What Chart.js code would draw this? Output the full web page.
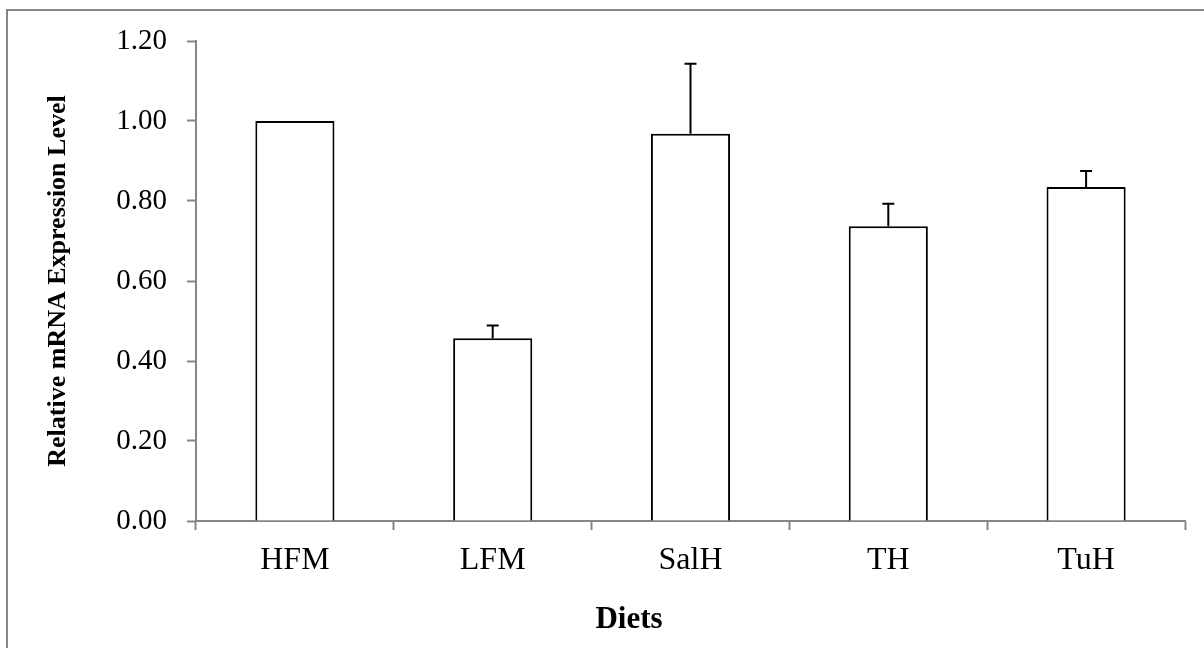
<!DOCTYPE html>
<html>
<head>
<meta charset="utf-8">
<script src="https://cdn.jsdelivr.net/npm/chart.js@4.4.0/dist/chart.umd.min.js"></script>
<style>
  html, body { margin: 0; padding: 0; background: #fff; }
  #wrap { width: 1204px; height: 648px; position: relative; }
</style>
</head>
<body>
<div id="wrap"><canvas id="chart" width="1204" height="648"></canvas></div>
<script>
const diets = ['HFM', 'LFM', 'SalH', 'TH', 'TuH'];
const expression = [1.0, 0.457, 0.968, 0.737, 0.835];
const errorUp = [0, 0.032, 0.175, 0.056, 0.040];
const yTicks = [0, 0.2, 0.4, 0.6, 0.8, 1.0, 1.2];

const serif = "'Liberation Serif', 'Times New Roman', serif";
const axisGray = '#868686';

// Excel-style outer frame around the chart
const framePlugin = {
  id: 'frame',
  beforeDraw(chart) {
    const ctx = chart.ctx;
    ctx.save();
    ctx.strokeStyle = axisGray;
    ctx.lineWidth = 2;
    ctx.strokeRect(7, 10, 1300, 700);
    ctx.restore();
  },
};

// upper error bars with a small cap
const errorBarPlugin = {
  id: 'errorBars',
  afterDatasetsDraw(chart) {
    const ctx = chart.ctx;
    const meta = chart.getDatasetMeta(0);
    const yScale = chart.scales.y;
    ctx.save();
    ctx.strokeStyle = '#000';
    ctx.lineWidth = 2;
    meta.data.forEach((bar, i) => {
      if (!errorUp[i]) return;
      const yTop = yScale.getPixelForValue(expression[i] + errorUp[i]);
      ctx.beginPath();
      ctx.moveTo(bar.x, bar.y);
      ctx.lineTo(bar.x, yTop);
      ctx.moveTo(bar.x - 6, yTop);
      ctx.lineTo(bar.x + 6, yTop);
      ctx.stroke();
    });
    ctx.restore();
  },
};

// x axis title sits left of the plot centre in the original
const xTitlePlugin = {
  id: 'xTitle',
  afterDraw(chart) {
    const ctx = chart.ctx;
    ctx.save();
    ctx.fillStyle = '#000';
    ctx.font = `bold 31px ${serif}`;
    ctx.textAlign = 'center';
    ctx.textBaseline = 'alphabetic';
    ctx.fillText('Diets', 629, 628);
    ctx.restore();
  },
};

new Chart(document.getElementById('chart'), {
  type: 'bar',
  data: {
    labels: diets,
    datasets: [
      {
        data: expression,
        backgroundColor: '#ffffff',
        borderColor: '#000000',
        borderWidth: 2,
        barPercentage: 0.4,
        categoryPercentage: 1.0,
      },
    ],
  },
  options: {
    responsive: false,
    animation: false,
    layout: { padding: { top: 41, right: 19, left: 0, bottom: 0 } },
    plugins: {
      legend: { display: false },
      tooltip: { enabled: false },
    },
    scales: {
      x: {
        grid: {
          offset: true,
          drawOnChartArea: false,
          drawTicks: true,
          tickLength: 9,
          tickWidth: 2,
          tickColor: axisGray,
        },
        border: { color: axisGray, width: 2 },
        ticks: {
          color: '#000',
          font: { family: serif, size: 32 },
          padding: 11,
          maxRotation: 0,
        },
        afterFit: (scale) => { scale.height = 127; },
      },
      y: {
        min: 0,
        max: 1.2,
        afterBuildTicks: (scale) => { scale.ticks = yTicks.map((v) => ({ value: v })); },
        grid: {
          drawOnChartArea: false,
          drawTicks: true,
          tickLength: 9,
          tickWidth: 2,
          tickColor: axisGray,
        },
        border: { color: axisGray, width: 2 },
        ticks: {
          color: '#000',
          font: { family: serif, size: 29 },
          padding: 20,
          callback: (value) => Number(value).toFixed(2),
        },
        title: {
          display: true,
          text: 'Relative mRNA Expression Level',
          color: '#000',
          font: { family: serif, size: 26, weight: 'bold' },
          padding: { top: 43, bottom: 0 },
        },
        afterFit: (scale) => { scale.width = 196; },
      },
    },
  },
  plugins: [framePlugin, errorBarPlugin, xTitlePlugin],
});
</script>
</body>
</html>
